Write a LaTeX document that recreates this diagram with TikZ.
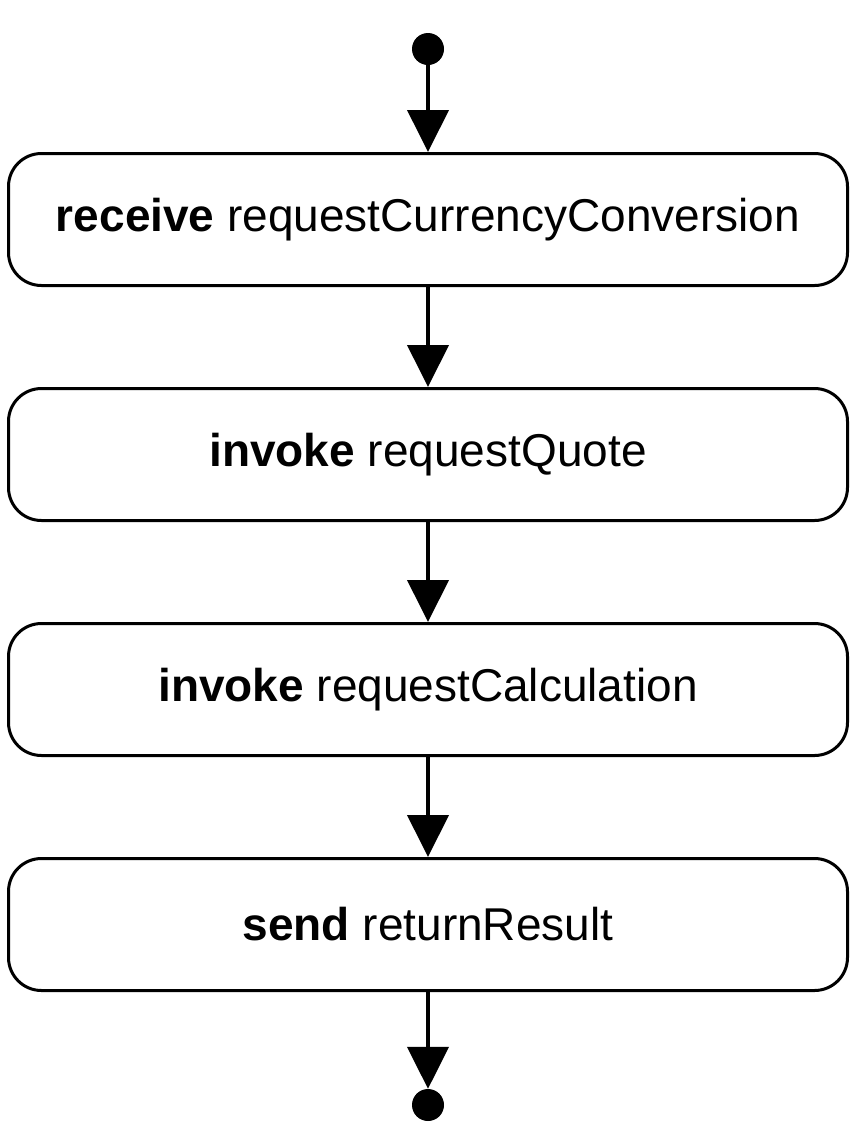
\documentclass[tikz,border=0pt]{standalone}
\usepackage{fontspec}
\setmainfont{Liberation Sans}
\usepackage{tikz}
\usetikzlibrary{positioning,arrows.meta}

\begin{document}
\begin{tikzpicture}[x=1pt,y=1pt,
        actnode/.style={rectangle, rounded corners=33pt, draw=black, line width=3pt, minimum width=839pt, minimum height=132pt, font=\fontsize{46}{50}\selectfont},
        dotnode/.style={circle, fill=black, inner sep=0pt, minimum size=32pt},
        flow/.style={line width=4pt, -{Triangle[length=42pt,width=41pt]}}]

        \useasboundingbox (0,0) rectangle (858,-1138);

        \node[dotnode] (0) at (428,-49) {};
        \node[actnode] (1) at (428,-219.5) {\textbf{receive} requestCurrencyConversion};
        \node[actnode] (2) [below=100pt of 1] {\textbf{invoke} requestQuote};
        \node[actnode] (3) [below=100pt of 2] {\textbf{invoke} requestCalculation};
        \node[actnode] (4) [below=100pt of 3] {\textbf{send} returnResult};
        \node[dotnode] (5) at (428,-1105) {};

        \draw[flow] (0) -- (1);
        \draw[flow] (1) -- (2);
        \draw[flow] (2) -- (3);
        \draw[flow] (3) -- (4);
        \draw[flow] (4) -- (5);

        \end{tikzpicture}
\end{document}
